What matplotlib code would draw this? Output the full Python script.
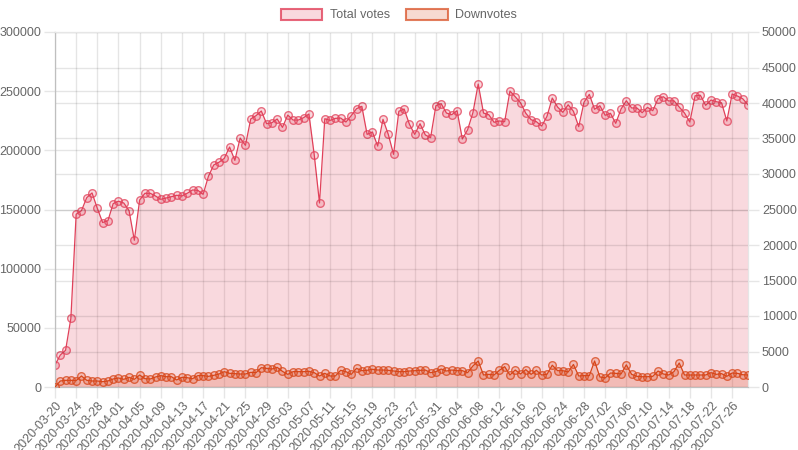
import matplotlib
matplotlib.use('Agg')
import matplotlib.pyplot as plt
from matplotlib.patches import Patch
import numpy as np
import pandas as pd

# daily dates, one point per day
dates = pd.date_range('2020-03-20', '2020-07-29').strftime('%Y-%m-%d').tolist()

total_votes = [
    18600, 27000, 31000, 58000, 146000, 149000, 160000, 164000, 151000, 139000,
    140500, 155000, 157000, 155500, 149000, 124000, 158000, 163700, 163700, 161400,
    158600, 159700, 160800, 162000, 161400, 163700, 166500, 166200, 162800, 178000,
    187600, 189900, 193200, 202800, 191500, 210400, 204200, 226500, 229300, 233200,
    222500, 223300, 226500, 219400, 229800, 225600, 225600, 227600, 230700, 196300,
    155500, 226700, 225300, 227000, 227300, 223900, 229300, 235200, 237200, 213500,
    215500, 203600, 226200, 213500, 196600, 233000, 234900, 222000, 213500, 222500,
    213000, 210700, 237700, 239400, 231500, 230100, 233500, 209600, 217400, 231800,
    256000, 231500, 230100, 223700, 224800, 224200, 250100, 245300, 240200, 231300,
    225900, 224200, 220500, 228700, 244200, 236600, 232100, 238500, 233000, 220000,
    240600, 247300, 234700, 237700, 229600, 231300, 222800, 234900, 241900, 235800,
    235800, 231800, 236300, 233500, 243600, 245300, 241700, 241900, 236600, 231500,
    223900, 246100, 246500, 238000, 242500, 241100, 240200, 224800, 247600, 245900,
    243600, 238500,
]

downvotes = [
    0, 845, 940, 940, 900, 1550, 940, 845, 845, 750,
    845, 1130, 1270, 1080, 1360, 1080, 1690, 1170, 1130, 1410,
    1600, 1450, 1450, 990, 1360, 1310, 1170, 1600, 1600, 1500,
    1640, 1830, 2160, 1925, 1880, 1830, 1830, 2060, 2020, 2720,
    2630, 2530, 2770, 2200, 1780, 2160, 2160, 2160, 2200, 2020,
    1550, 1925, 1550, 1550, 2350, 2160, 1780, 2630, 2300, 2350,
    2490, 2390, 2390, 2350, 2250, 2160, 2160, 2250, 2300, 2350,
    2390, 2020, 2160, 2530, 2250, 2390, 2300, 2300, 2020, 2960,
    3660, 1690, 1780, 1690, 2350, 2860, 1690, 2390, 1830, 2440,
    1780, 2350, 1690, 1780, 3070, 2300, 2300, 2110, 3170, 1550,
    1600, 1600, 3660, 1410, 1270, 1970, 1925, 1830, 3120, 1780,
    1500, 1450, 1450, 1500, 2250, 1830, 1690, 2160, 3380, 1690,
    1690, 1690, 1690, 1690, 2020, 1780, 1880, 1500, 1970, 1925,
    1730, 1690,
]

left_ticks = [0, 50000, 100000, 150000, 200000, 250000, 300000]
right_ticks = [0, 5000, 10000, 15000, 20000, 25000, 30000, 35000, 40000, 45000, 50000]

red = (225/255, 65/255, 90/255)
orange = (215/255, 70/255, 25/255)
grid_c = (0.9, 0.9, 0.9)
text_c = '#666666'

plt.rcParams['font.family'] = ['Liberation Sans', 'DejaVu Sans']
plt.rcParams['font.size'] = 9

fig = plt.figure(figsize=(7.98, 4.5), dpi=100)
ax = fig.add_axes([55/798, 1-387/450, 693/798, 355/450])
ax2 = ax.twinx()

x = np.arange(len(dates))

ax.fill_between(x, total_votes, 0, color=red, alpha=0.2, lw=0, zorder=1)
ax.plot(x, total_votes, color=red, lw=0.9, zorder=3,
        marker='o', ms=5.5, mfc=red + (0.2,), mec=red + (0.75,), mew=1.0)

ax2.fill_between(x, downvotes, 0, color=orange, alpha=0.2, lw=0, zorder=1)
ax2.plot(x, downvotes, color=orange, lw=0.9, zorder=3,
         marker='o', ms=5.5, mfc=orange + (0.2,), mec=orange + (0.75,), mew=1.0)

ax.set_xlim(0, len(dates)-1)
ax.set_ylim(0, 300000)
ax2.set_ylim(0, 50000)

ax.set_xticks(x[::4])
ax.set_xticklabels(dates[::4], rotation=48, ha='right', va='top',
                   rotation_mode='anchor', color=text_c, fontsize=9)
ax.set_yticks(left_ticks)
ax.set_yticklabels([str(v) for v in left_ticks], color=text_c, fontsize=9)
ax2.set_yticks(right_ticks)
ax2.set_yticklabels([str(v) for v in right_ticks], color=text_c, fontsize=9)

ax.tick_params(axis='both', length=8, color=grid_c, width=1, pad=2)
ax.tick_params(axis='x', pad=1)
ax2.tick_params(axis='y', length=8, color=grid_c, width=1, pad=2)

ax.grid(True, color='black', alpha=0.1, lw=1)
ax2.grid(True, axis='y', color='black', alpha=0.1, lw=1)
ax.set_axisbelow(True)
ax2.set_axisbelow(True)

for a in (ax, ax2):
    for s in a.spines.values():
        s.set_color(grid_c)
    a.spines['left'].set_color('#bfbfbf')
    a.spines['bottom'].set_color('#bfbfbf')

handles = [
    Patch(facecolor=red + (0.2,), edgecolor=red + (0.8,), lw=1.5, label='Total votes'),
    Patch(facecolor=orange + (0.2,), edgecolor=orange + (0.7,), lw=1.5, label='Downvotes'),
]
leg = fig.legend(handles=handles, loc='center', bbox_to_anchor=(0.5, 1-15/450),
                 ncol=2, frameon=False, handlelength=3.3, handleheight=1.0,
                 handletextpad=0.6, columnspacing=1.3, fontsize=9)
for t in leg.get_texts():
    t.set_color(text_c)

fig.savefig('out.png', dpi=100)
